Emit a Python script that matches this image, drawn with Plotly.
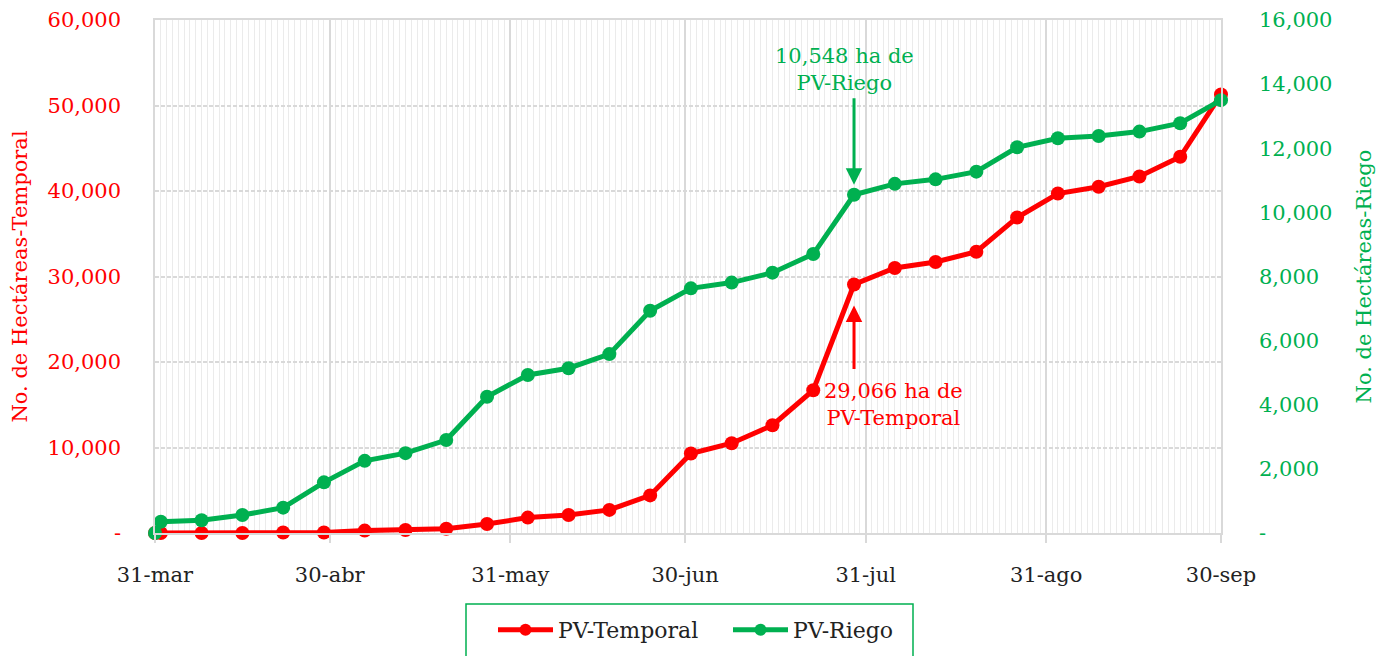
import plotly.graph_objects as go

# ---- data ----
dates = ["2023-03-31", "2023-04-01", "2023-04-08", "2023-04-15", "2023-04-22", "2023-04-29",
         "2023-05-06", "2023-05-13", "2023-05-20", "2023-05-27", "2023-06-03", "2023-06-10",
         "2023-06-17", "2023-06-24", "2023-07-01", "2023-07-08", "2023-07-15", "2023-07-22",
         "2023-07-29", "2023-08-05", "2023-08-12", "2023-08-19", "2023-08-26", "2023-09-02",
         "2023-09-09", "2023-09-16", "2023-09-23", "2023-09-30"]
pv_temporal = [0, 0, 0, 0, 50, 50, 280, 350, 500, 1050, 1800, 2100, 2700, 4400, 9300, 10500,
               12600, 16700, 29066, 31000, 31700, 32900, 36900, 39700, 40500, 41700, 44000, 51300]
pv_riego = [0, 350, 400, 560, 790, 1580, 2250, 2490, 2900, 4250, 4930, 5140, 5580, 6930, 7630,
            7810, 8120, 8700, 10548, 10890, 11030, 11270, 12030, 12310, 12380, 12520, 12780, 13500]

x_tickvals = ["2023-03-31", "2023-04-30", "2023-05-31", "2023-06-30", "2023-07-31", "2023-08-31", "2023-09-30"]
x_ticktext = ["31-mar", "30-abr", "31-may", "30-jun", "31-jul", "31-ago", "30-sep"]
y1_tickvals = [0, 10000, 20000, 30000, 40000, 50000, 60000]
y1_ticktext = ["-", "10,000", "20,000", "30,000", "40,000", "50,000", "60,000"]
y2_tickvals = [0, 2000, 4000, 6000, 8000, 10000, 12000, 14000, 16000]
y2_ticktext = ["-", "2,000", "4,000", "6,000", "8,000", "10,000", "12,000", "14,000", "16,000"]

RED = "#ff0000"
GREEN = "#00b050"
FONT = "DejaVu Serif"

W, H = 1383, 656
L, R, T, B = 155, 1221, 20, 533

fig = go.Figure()
fig.add_trace(go.Scatter(x=dates, y=pv_temporal, name="PV-Temporal", mode="lines+markers",
                         line=dict(color=RED, width=5), marker=dict(size=14, color=RED),
                         cliponaxis=False))
fig.add_trace(go.Scatter(x=dates, y=pv_riego, name="PV-Riego", mode="lines+markers", yaxis="y2",
                         line=dict(color=GREEN, width=5), marker=dict(size=14, color=GREEN),
                         cliponaxis=False))

def px_x(p):
    return (p - L) / (R - L)

def px_y(p):
    return (B - p) / (B - T)

fig.update_layout(
    width=W, height=H,
    margin=dict(l=L, r=W - R, t=T, b=H - B, autoexpand=False),
    paper_bgcolor="white", plot_bgcolor="white",
    font=dict(family=FONT, size=21, color="#222222"),
    xaxis=dict(
        type="date", range=["2023-03-31", "2023-09-30"], automargin=False,
        tickvals=x_tickvals, ticktext=x_ticktext,
        showgrid=True, gridcolor="#d9d9d9", gridwidth=1.5,
        minor=dict(dtick=86400000, showgrid=True, gridcolor="#ebebeb", gridwidth=1),
        ticks="outside", ticklen=8, tickcolor="#d9d9d9", tickwidth=1.5,
        ticklabelstandoff=14,
        showline=True, linecolor="#d9d9d9", linewidth=1.5, mirror=True,
        tickfont=dict(size=21, color="#222222"),
    ),
    yaxis=dict(
        range=[0, 60000], tickvals=y1_tickvals, ticktext=y1_ticktext, automargin=False,
        showgrid=True, gridcolor="#d9d9d9", gridwidth=1.5, griddash="4px,2px",
        zeroline=False, ticks="", ticklabelstandoff=28,
        tickfont=dict(size=21, color=RED),
        title=dict(text="No. de Hectáreas-Temporal", font=dict(size=21, color=RED), standoff=14),
        showline=True, linecolor="#d9d9d9", linewidth=1.5, mirror=True,
    ),
    yaxis2=dict(
        range=[0, 16000], tickvals=y2_tickvals, ticktext=y2_ticktext, automargin=False,
        overlaying="y", side="right", showgrid=False, zeroline=False,
        ticks="", ticklabelstandoff=37,
        tickfont=dict(size=21, color=GREEN),
        title=dict(text="No. de Hectáreas-Riego", font=dict(size=21, color=GREEN), standoff=24),
    ),
    legend=dict(orientation="h", x=px_x(493), xanchor="left", y=px_y(630), yanchor="middle",
                bgcolor="rgba(0,0,0,0)", font=dict(size=22, color="#222222"),
                entrywidth=165, entrywidthmode="pixels", itemwidth=55, itemsizing="constant"),
    shapes=[dict(type="rect", xref="paper", yref="paper",
                 x0=px_x(466), x1=px_x(913), y0=px_y(604), y1=px_y(662),
                 line=dict(color=GREEN, width=1.5), fillcolor="rgba(0,0,0,0)", layer="above")],
    annotations=[
        dict(x="2023-07-29", y=10548, xref="x", yref="y2", text="10,548 ha de<br>PV-Riego",
             showarrow=False, xshift=-10, yshift=125, font=dict(size=21, color=GREEN)),
        dict(x="2023-07-29", y=10548, xref="x", yref="y2", text="", showarrow=True,
             ax=0, ay=-98, standoff=10, arrowhead=2, arrowsize=1.1, arrowwidth=3, arrowcolor=GREEN),
        dict(x="2023-07-29", y=29066, xref="x", yref="y", text="29,066 ha de<br>PV-Temporal",
             showarrow=False, xshift=39, yshift=-120, font=dict(size=21, color=RED)),
        dict(x="2023-07-29", y=29066, xref="x", yref="y", text="", showarrow=True,
             ax=0, ay=86, standoff=21, arrowhead=2, arrowsize=1.1, arrowwidth=3, arrowcolor=RED),
    ],
)

fig.write_html("out.html", config={"displayModeBar": False},
               post_script="document.body.style.margin='0';")
